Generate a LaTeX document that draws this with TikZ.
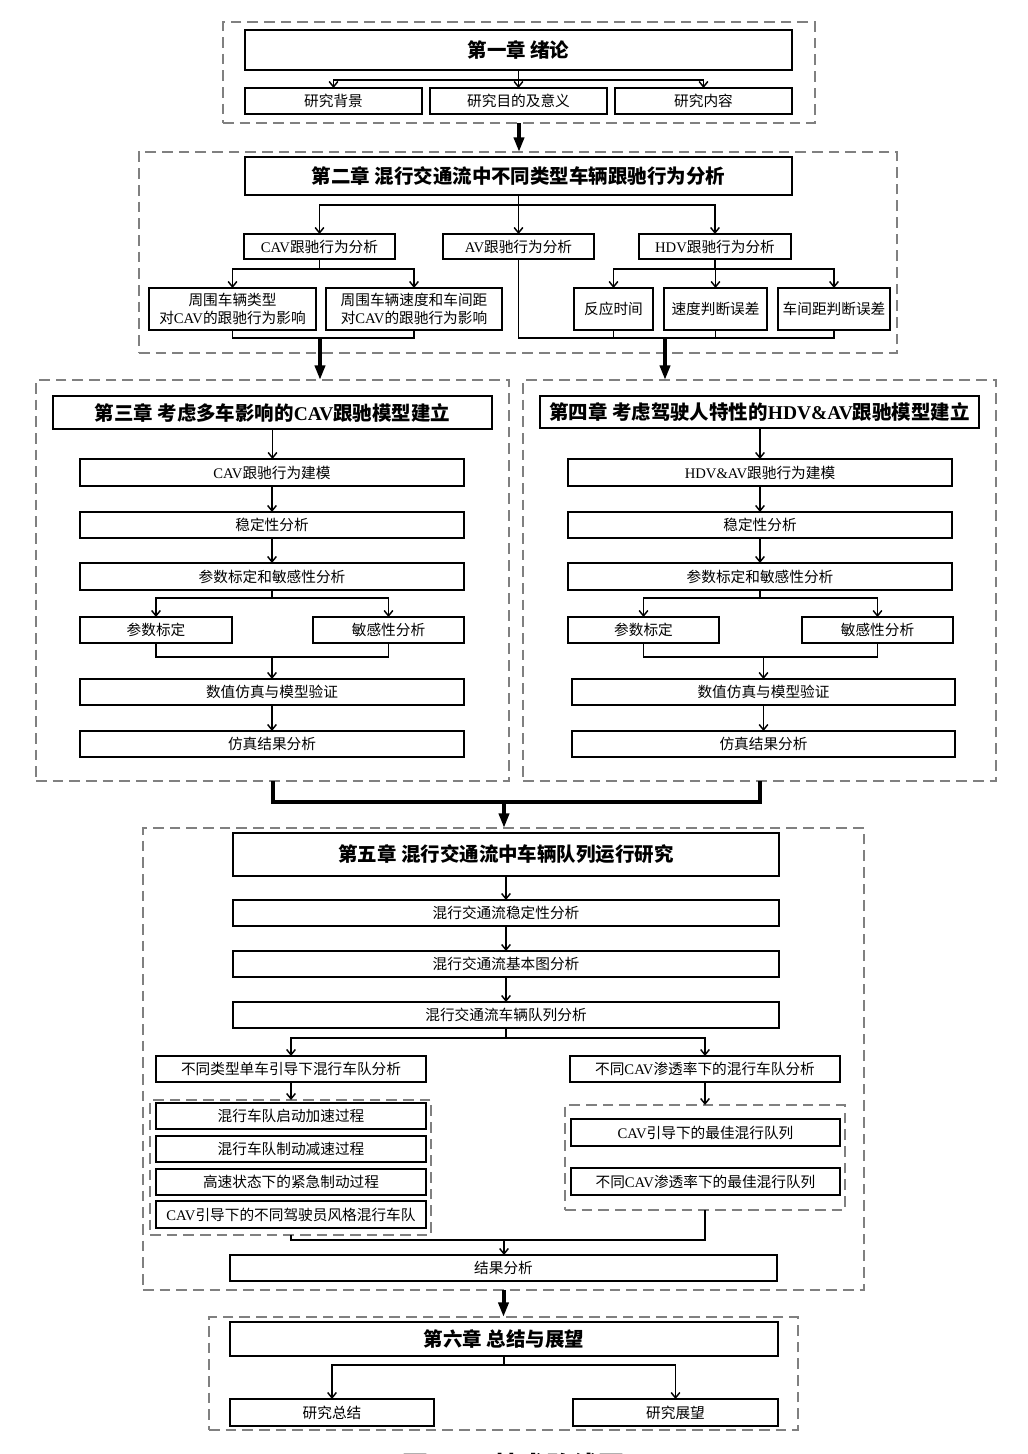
\documentclass[tikz,border=0pt]{standalone}
\usepackage{fontspec}
\setmainfont{Noto Sans CJK SC}
\newfontfamily\lat{Liberation Serif}
\usetikzlibrary{arrows.meta}

\newcommand{\fsm}{\fontsize{11pt}{14pt}\selectfont}
\newcommand{\fti}{\fontsize{14.6pt}{17pt}\selectfont\bfseries}

\newcommand{\bx}[7][]{%
 \pgfmathsetmacro\bxcx{(#3+#5)/2}%
 \pgfmathsetmacro\bxcy{(#4+#6)/2}%
 \pgfmathsetmacro\bxw{(#5-#3)*0.75}%
 \pgfmathsetmacro\bxh{(#6-#4)*0.75}%
 \node[box,#1,minimum width=\bxw pt,minimum height=\bxh pt] (#2) at (\bxcx,\bxcy) {#7};}

\tikzset{
 box/.style={draw, line width=1.3pt, inner sep=0pt, outer sep=0pt, font=\fsm, align=center},
 tbox/.style={line width=1.6pt, font=\fti},
 grp/.style={draw=black!50, line width=1.1pt, dash pattern=on 8pt off 4.5pt},
 conn/.style={line width=1.1pt},
 arr/.style={conn, -{Straight Barb[length=4pt,width=6.5pt]}},
 bigl/.style={line width=3pt},
 big/.style={line width=3pt, -{Triangle[length=11pt,width=7.5pt]}},
}

\begin{document}
\begin{tikzpicture}[x=0.75pt,y=-0.75pt]
\useasboundingbox (0,0) rectangle (1028,1454);

% ---------- Chapter 1 ----------
\bx[grp]{g1}{223}{22}{815}{123}{}
\bx[tbox]{t1}{245}{30}{792}{70}{第一章 绪论}
\bx{s11}{245}{88}{422}{114}{研究背景}
\bx{s12}{430}{88}{607}{114}{研究目的及意义}
\bx{s13}{615}{88}{792}{114}{研究内容}
\coordinate (j1) at (518.5,80);
\draw[conn] (t1.south) -- (j1);
\foreach \n in {s11,s12,s13} \draw[arr] (j1) -| (\n.north);

% ---------- Chapter 2 ----------
\bx[grp]{g2}{139}{152}{897}{353}{}
\draw[big] (g1.south) -- (g1.south |- g2.north);
\bx[tbox]{t2}{245}{157}{792}{195}{第二章 混行交通流中不同类型车辆跟驰行为分析}
\bx{a21}{244}{234}{395}{259}{{\lat CAV}跟驰行为分析}
\bx{a22}{443}{234}{594}{259}{{\lat AV}跟驰行为分析}
\bx{a23}{639}{234}{791}{259}{{\lat HDV}跟驰行为分析}
\coordinate (j2) at (518.5,205);
\draw[conn] (t2.south) -- (j2);
\foreach \n in {a21,a22,a23} \draw[arr] (j2) -| (\n.north);
\bx{b21}{149}{288}{316}{330}{周围车辆类型\\对{\lat CAV}的跟驰行为影响}
\bx{b22}{326}{288}{502}{330}{周围车辆速度和车间距\\对{\lat CAV}的跟驰行为影响}
\coordinate (j3) at (319.5,269);
\draw[conn] (a21.south) -- (j3);
\foreach \n in {b21,b22} \draw[arr] (j3) -| (\n.north);
\bx{c21}{574}{288}{653}{330}{反应时间}
\bx{c22}{664}{288}{767}{330}{速度判断误差}
\bx{c23}{778}{288}{890}{330}{车间距判断误差}
\coordinate (j4) at (715,269);
\draw[conn] (a23.south) -- (j4);
\foreach \n in {c21,c22,c23} \draw[arr] (j4) -| (\n.north);
\coordinate (k1) at (320,338);
\coordinate (k2) at (665,338);
\draw[conn] (b21.south) |- (k1) -| (b22.south);
\draw[conn] (a22.south) |- (k2) -| (c23.south);
\draw[conn] (c21.south) -- (c21.south |- k2);
\draw[conn] (c22.south) -- (c22.south |- k2);

% ---------- Chapter 3 ----------
\bx[grp]{g3}{36}{380}{509}{781}{}
\bx[tbox]{t3}{53}{396}{492}{429}{第三章 考虑多车影响的{\lat CAV}跟驰模型建立}
\bx{d31}{80}{459}{464}{486}{{\lat CAV}跟驰行为建模}
\bx{d32}{80}{512}{464}{538}{稳定性分析}
\bx{d33}{80}{563}{464}{590}{参数标定和敏感性分析}
\bx{d34}{80}{617}{232}{643}{参数标定}
\bx{d35}{313}{617}{464}{643}{敏感性分析}
\bx{d36}{80}{679}{464}{705}{数值仿真与模型验证}
\bx{d37}{80}{731}{464}{757}{仿真结果分析}
\draw[arr] (t3.south) -- (t3.south |- d31.north);
\draw[arr] (d31.south) -- (d32.north);
\draw[arr] (d32.south) -- (d33.north);
\coordinate (j5) at (272,598);
\draw[conn] (d33.south) -- (j5);
\foreach \n in {d34,d35} \draw[arr] (j5) -| (\n.north);
\coordinate (k3) at (272,657);
\draw[conn] (d34.south) |- (k3) -| (d35.south);
\draw[arr] (k3) -- (d36.north);
\draw[arr] (d36.south) -- (d37.north);

% ---------- Chapter 4 ----------
\bx[grp]{g4}{523}{380}{996}{781}{}
\bx[tbox]{t4}{540}{396}{979}{428}{第四章 考虑驾驶人特性的{\lat HDV\&AV}跟驰模型建立}
\bx{e41}{568}{459}{952}{486}{{\lat HDV\&AV}跟驰行为建模}
\bx{e42}{568}{512}{952}{538}{稳定性分析}
\bx{e43}{568}{563}{952}{590}{参数标定和敏感性分析}
\bx{e44}{568}{617}{719}{643}{参数标定}
\bx{e45}{802}{617}{953}{643}{敏感性分析}
\bx{e46}{572}{679}{955}{705}{数值仿真与模型验证}
\bx{e47}{572}{731}{955}{757}{仿真结果分析}
\draw[arr] (e41.north |- t4.south) -- (e41.north);
\draw[arr] (e41.south) -- (e42.north);
\draw[arr] (e42.south) -- (e43.north);
\coordinate (j6) at (760,598);
\draw[conn] (e43.south) -- (j6);
\foreach \n in {e44,e45} \draw[arr] (j6) -| (\n.north);
\coordinate (k4) at (763.5,657);
\draw[conn] (e44.south) |- (k4) -| (e45.south);
\draw[arr] (k4) -- (e46.north);
\draw[arr] (e46.south) -- (e47.north);

% big arrows into chapters 3 and 4
\draw[big] (k1) -- (k1 |- g3.north);
\draw[big] (k2) -- (k2 |- g4.north);

% ---------- Chapter 5 ----------
\bx[grp]{g5}{143}{828}{864}{1290}{}
\coordinate (k5) at (504,802);
\draw[bigl] (g3.south) |- (k5) -| (g4.south);
\draw[big] (k5) -- (k5 |- g5.north);
\bx[tbox]{t5}{233}{833}{779}{876}{第五章 混行交通流中车辆队列运行研究}
\bx{f51}{233}{900}{779}{926}{混行交通流稳定性分析}
\bx{f52}{233}{951}{779}{977}{混行交通流基本图分析}
\bx{f53}{233}{1002}{779}{1028}{混行交通流车辆队列分析}
\draw[arr] (t5.south) -- (f51.north);
\draw[arr] (f51.south) -- (f52.north);
\draw[arr] (f52.south) -- (f53.north);
\bx{f54}{156}{1056}{426}{1082}{不同类型单车引导下混行车队分析}
\bx{f55}{570}{1056}{840}{1082}{不同{\lat CAV}渗透率下的混行车队分析}
\coordinate (j7) at (506,1038);
\draw[conn] (f53.south) -- (j7);
\foreach \n in {f54,f55} \draw[arr] (j7) -| (\n.north);
\bx[grp]{gL}{150}{1100}{431}{1235}{}
\bx{h1}{156}{1103}{426}{1129}{混行车队启动加速过程}
\bx{h2}{156}{1136}{426}{1162}{混行车队制动减速过程}
\bx{h3}{156}{1169}{426}{1195}{高速状态下的紧急制动过程}
\bx{h4}{156}{1201}{426}{1228}{{\lat CAV}引导下的不同驾驶员风格混行车队}
\bx[grp]{gR}{565}{1105}{845}{1210}{}
\bx{i1}{571}{1119}{840}{1146}{{\lat CAV}引导下的最佳混行队列}
\bx{i2}{571}{1168}{840}{1195}{不同{\lat CAV}渗透率下的最佳混行队列}
\draw[arr] (f54.south) -- (f54.south |- gL.north);
\draw[arr] (f55.south) -- (f55.south |- gR.north);
\bx{f56}{230}{1255}{777}{1281}{结果分析}
\coordinate (k6) at (504,1240);
\draw[conn] (f54.south |- gL.south) |- (k6) -| (f55.south |- gR.south);
\draw[arr] (k6) -- (k6 |- f56.north);

% ---------- Chapter 6 ----------
\bx[grp]{g6}{209}{1317}{798}{1430}{}
\draw[big] (g5.south) -- (g5.south |- g6.north);
\bx[tbox]{t6}{230}{1322}{778}{1356}{第六章 总结与展望}
\bx{j61}{230}{1399}{434}{1426}{研究总结}
\bx{j62}{573}{1399}{778}{1426}{研究展望}
\coordinate (j8) at (504,1365);
\draw[conn] (t6.south) -- (j8);
\foreach \n in {j61,j62} \draw[arr] (j8) -| (\n.north);

% caption (cut off by the page edge, as in the reference)
\node[inner sep=0pt, anchor=base west, font=\fontsize{19.5pt}{22pt}\selectfont\bfseries] (cap) at (402,1475)
 {图\hspace{12pt}{\lat 1-1}\hspace{12pt}技术路线图};
\end{tikzpicture}
\end{document}
